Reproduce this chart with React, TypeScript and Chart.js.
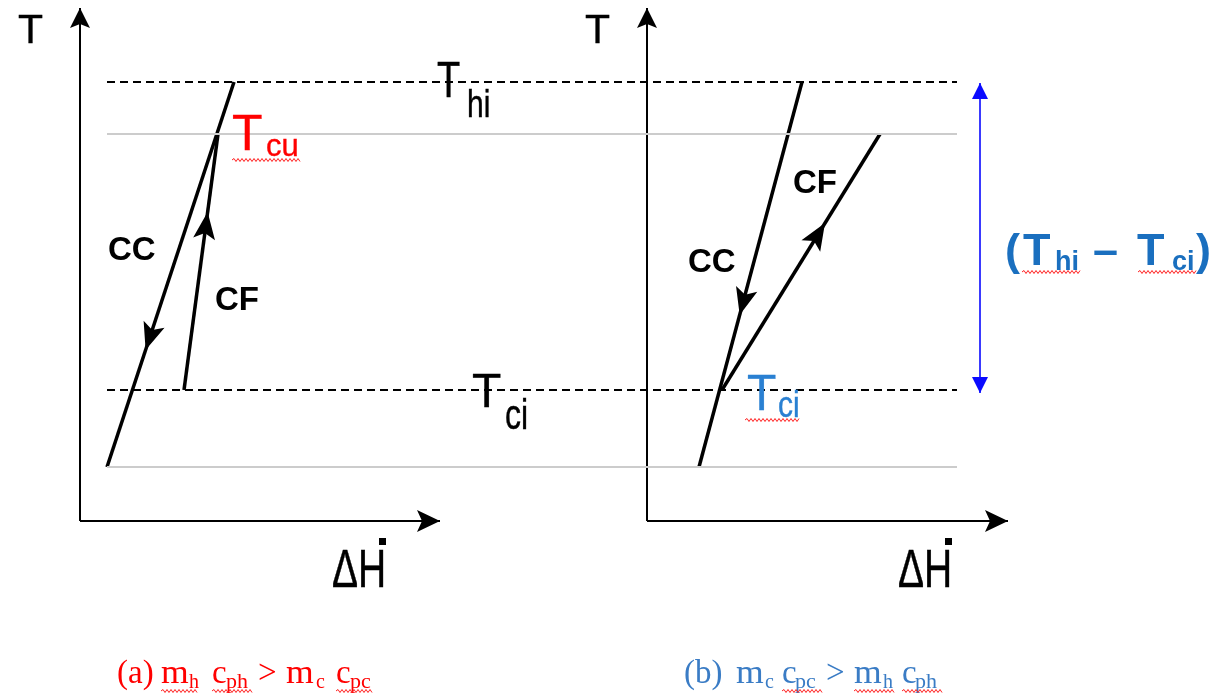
import React, { useEffect, useRef } from 'react';
import { Chart, registerables } from 'chart.js';

Chart.register(...registerables);

// Drawing frame: x grows right, y grows downward (page-like units)
const WIDTH = 1213;
const HEIGHT = 693;

// Temperature levels shared by both panels
const levelNames = ['T_hi', 'T_cu', 'T_ci', 'T_low'];
const levelY = [82, 134, 390, 467];
const levelDashed = [true, false, true, false];
const levelSpanX = [107, 957];

// Axes (origin and arrow tips) for panels (a) and (b)
const axisOriginX = [80, 647];
const axisOriginY = 521;
const axisTipY = 8;
const axisTipX = [440, 1008];

// Stream profiles, listed in flow direction [start, end]
const ccLeftX = [234, 107];
const ccLeftY = [82, 467];
const cfLeftX = [184, 218];
const cfLeftY = [390, 134];
const ccRightX = [802, 699];
const ccRightY = [82, 467];
const cfRightX = [722, 880];
const cfRightY = [390, 134];
// where the flow arrow sits along each profile (0 = start, 1 = end)
const streamArrowAt = [0.696, 0.695, 0.605, 0.652];

// Span marker for the maximum temperature difference
const spanX = [980, 980];
const spanY = [83, 393];

const SANS = '"Liberation Sans", Arial, sans-serif';
const SERIF = '"Liberation Serif", "Times New Roman", serif';
const RED = '#ff0000';
const BLUE_T = '#2a80d2';
const BLUE_BOLD = '#1a6fbf';
const BLUE_CAP = '#3a7cc5';

type Run = {
  text: string; x: number; y: number; size: number; color: string;
  bold?: boolean; family?: string; sx?: number; sy?: number; heavy?: boolean;
};

const textRuns: Run[] = [
  // axis titles
  { text: 'T', x: 18, y: 43, size: 41, color: '#000', heavy: true },
  { text: 'T', x: 585, y: 43, size: 41, color: '#000', heavy: true },
  // stream names
  { text: 'CC', x: 108, y: 260, size: 33, color: '#000', bold: true },
  { text: 'CF', x: 215, y: 310, size: 33, color: '#000', bold: true },
  { text: 'CF', x: 793, y: 193, size: 33, color: '#000', bold: true },
  { text: 'CC', x: 688, y: 272, size: 33, color: '#000', bold: true },
  // level names
  { text: 'T', x: 437, y: 97, size: 38, color: '#000', sy: 1.3, heavy: true },
  { text: 'hi', x: 467, y: 117, size: 30, color: '#000', sy: 1.3, heavy: true },
  { text: 'T', x: 472, y: 407, size: 48, color: '#000', heavy: true },
  { text: 'ci', x: 505, y: 429, size: 32, color: '#000', sy: 1.3, heavy: true },
  { text: 'T', x: 232, y: 150, size: 50, color: RED, heavy: true },
  { text: 'cu', x: 266, y: 156, size: 31, color: RED, heavy: true },
  { text: 'T', x: 747, y: 410, size: 48, color: BLUE_T, sy: 1.05, heavy: true },
  { text: 'ci', x: 778, y: 417, size: 30, color: BLUE_T, sy: 1.2, heavy: true },
  // (Thi – Tci)
  { text: '(', x: 1005, y: 265, size: 45, color: BLUE_BOLD, bold: true },
  { text: 'T', x: 1023, y: 265, size: 45, color: BLUE_BOLD, bold: true },
  { text: 'hi', x: 1055, y: 270, size: 27, color: BLUE_BOLD, bold: true },
  { text: '\u2013', x: 1093, y: 265, size: 45, color: BLUE_BOLD, bold: true },
  { text: 'T', x: 1137, y: 265, size: 45, color: BLUE_BOLD, bold: true },
  { text: 'ci', x: 1172, y: 270, size: 27, color: BLUE_BOLD, bold: true },
  { text: ')', x: 1196, y: 265, size: 45, color: BLUE_BOLD, bold: true },
  // x-axis titles
  { text: '\u0394H', x: 332, y: 587, size: 39, color: '#000', sy: 1.38, heavy: true },
  { text: '\u0394H', x: 898, y: 587, size: 39, color: '#000', sy: 1.38, heavy: true },
  // caption (a)
  { text: '(a)', x: 117, y: 683, size: 33, color: RED, family: SERIF },
  { text: 'm', x: 161, y: 683, size: 33, color: RED, family: SERIF, sx: 1.08 },
  { text: 'h', x: 189, y: 688, size: 20, color: RED, family: SERIF },
  { text: 'c', x: 212, y: 683, size: 33, color: RED, family: SERIF },
  { text: 'ph', x: 226, y: 688, size: 20, color: RED, family: SERIF, sx: 1.1 },
  { text: '>', x: 258, y: 683, size: 33, color: RED, family: SERIF },
  { text: 'm', x: 286, y: 683, size: 33, color: RED, family: SERIF, sx: 1.08 },
  { text: 'c', x: 316, y: 688, size: 20, color: RED, family: SERIF },
  { text: 'c', x: 336, y: 683, size: 33, color: RED, family: SERIF },
  { text: 'pc', x: 350, y: 688, size: 20, color: RED, family: SERIF, sx: 1.1 },
  // caption (b)
  { text: '(b)', x: 684, y: 683, size: 33, color: BLUE_CAP, family: SERIF },
  { text: 'm', x: 736, y: 683, size: 33, color: BLUE_CAP, family: SERIF, sx: 1.08 },
  { text: 'c', x: 765, y: 688, size: 20, color: BLUE_CAP, family: SERIF },
  { text: 'c', x: 782, y: 683, size: 33, color: BLUE_CAP, family: SERIF },
  { text: 'pc', x: 795, y: 688, size: 20, color: BLUE_CAP, family: SERIF, sx: 1.1 },
  { text: '>', x: 826, y: 683, size: 33, color: BLUE_CAP, family: SERIF },
  { text: 'm', x: 854, y: 683, size: 33, color: BLUE_CAP, family: SERIF, sx: 1.08 },
  { text: 'h', x: 883, y: 688, size: 20, color: BLUE_CAP, family: SERIF },
  { text: 'c', x: 902, y: 683, size: 33, color: BLUE_CAP, family: SERIF },
  { text: 'ph', x: 915, y: 688, size: 20, color: BLUE_CAP, family: SERIF, sx: 1.1 },
];

// dots of the H-dot symbol: [x, y, w, h]
const hDots = [
  [379, 538, 7, 7],
  [945, 538, 7, 7],
];

// spell-check squiggles: [x0, x1, y]
const squiggles = [
  [232, 300, 160],
  [745, 800, 420],
  [1022, 1080, 272],
  [1138, 1197, 272],
  [161, 197, 691],
  [212, 252, 691],
  [336, 373, 691],
  [782, 822, 691],
  [854, 895, 691],
  [902, 943, 691],
];

type ArrowSpec = { at: number; dir: number; len: number; half: number; notch: number; color: string };

function seg(xs: number[], ys: number[], color: string, width: number, extra: any = {}) {
  return {
    data: xs.map((x, i) => ({ x, y: ys[i] })),
    showLine: true,
    pointRadius: 0,
    pointHoverRadius: 0,
    borderColor: color,
    backgroundColor: color,
    borderWidth: width,
    fill: false,
    tension: 0,
    ...extra,
  };
}

function buildDatasets() {
  const ds: any[] = [];
  // horizontal level lines
  levelY.forEach((y, i) => {
    ds.push(
      seg(levelSpanX, [y, y], levelDashed[i] ? '#000000' : '#cccccc', 2, {
        label: levelNames[i],
        borderDash: levelDashed[i] ? [8, 5] : [],
      })
    );
  });
  // axes
  const axisArrowV: ArrowSpec = { at: 1, dir: 1, len: 20, half: 10, notch: 4, color: '#000' };
  const axisArrowH: ArrowSpec = { at: 1, dir: 1, len: 23, half: 11, notch: 5, color: '#000' };
  axisOriginX.forEach((x0, i) => {
    ds.push(seg([x0, x0], [axisOriginY, axisTipY], '#000', 2, { label: 'T axis', arrows: [axisArrowV] }));
    ds.push(seg([x0, axisTipX[i]], [axisOriginY, axisOriginY], '#000', 2, { label: 'H axis', arrows: [axisArrowH] }));
  });
  // stream profiles
  const streams = [
    ['CC (a)', ccLeftX, ccLeftY],
    ['CF (a)', cfLeftX, cfLeftY],
    ['CC (b)', ccRightX, ccRightY],
    ['CF (b)', cfRightX, cfRightY],
  ] as const;
  streams.forEach(([name, xs, ys], i) => {
    ds.push(
      seg(xs as any, ys as any, '#000', 3.5, {
        label: name,
        arrows: [{ at: streamArrowAt[i], dir: 1, len: 27, half: 11, notch: 6, color: '#000' }],
      })
    );
  });
  // temperature-difference span
  ds.push(
    seg(spanX, spanY, '#3a3aff', 2, {
      label: 'span',
      arrows: [
        { at: 0, dir: -1, len: 16, half: 8, notch: 0, color: '#0a0aff' },
        { at: 1, dir: 1, len: 16, half: 8, notch: 0, color: '#0a0aff' },
      ],
    })
  );
  return ds;
}

const arrowPlugin = {
  id: 'arrowHeads',
  afterDatasetsDraw(chart: any) {
    const ctx = chart.ctx as CanvasRenderingContext2D;
    chart.data.datasets.forEach((d: any, i: number) => {
      if (!d.arrows) return;
      const meta = chart.getDatasetMeta(i);
      const p0 = meta.data[0];
      const p1 = meta.data[1];
      const dx = p1.x - p0.x;
      const dy = p1.y - p0.y;
      const L = Math.hypot(dx, dy);
      d.arrows.forEach((a: ArrowSpec) => {
        const ux = (dx / L) * a.dir;
        const uy = (dy / L) * a.dir;
        const nx = -uy;
        const ny = ux;
        const tx = p0.x + dx * a.at;
        const ty = p0.y + dy * a.at;
        const bx = tx - ux * a.len;
        const by = ty - uy * a.len;
        const mx = tx - ux * (a.len - a.notch);
        const my = ty - uy * (a.len - a.notch);
        ctx.save();
        ctx.fillStyle = a.color;
        ctx.beginPath();
        ctx.moveTo(tx, ty);
        ctx.lineTo(bx + nx * a.half, by + ny * a.half);
        ctx.lineTo(mx, my);
        ctx.lineTo(bx - nx * a.half, by - ny * a.half);
        ctx.closePath();
        ctx.fill();
        ctx.restore();
      });
    });
  },
};

const labelPlugin = {
  id: 'diagramLabels',
  afterDraw(chart: any) {
    const ctx = chart.ctx as CanvasRenderingContext2D;
    const xs = chart.scales.x;
    const ys = chart.scales.y;
    const px = (v: number) => xs.getPixelForValue(v);
    const py = (v: number) => ys.getPixelForValue(v);

    textRuns.forEach((r) => {
      ctx.save();
      ctx.font = `${r.bold ? 'bold ' : ''}${r.size}px ${r.family ?? SANS}`;
      ctx.fillStyle = r.color;
      ctx.strokeStyle = r.color;
      ctx.textAlign = 'left';
      ctx.textBaseline = 'alphabetic';
      ctx.translate(px(r.x), py(r.y));
      ctx.scale(r.sx ?? 1, r.sy ?? 1);
      ctx.fillText(r.text, 0, 0);
      if (r.heavy) {
        // slight extra weight for the regular-face symbols
        ctx.lineWidth = 0.35;
        ctx.strokeText(r.text, 0, 0);
      }
      ctx.restore();
    });

    ctx.save();
    ctx.fillStyle = '#000';
    hDots.forEach(([x, y, w, h]) => {
      ctx.fillRect(px(x), py(y), w, h);
    });
    ctx.restore();

    ctx.save();
    ctx.strokeStyle = '#ff2020';
    ctx.lineWidth = 1;
    squiggles.forEach(([x0, x1, y]) => {
      const a = px(x0);
      const b = px(x1);
      const yy = py(y);
      ctx.beginPath();
      ctx.moveTo(a, yy);
      let up = true;
      for (let x = a + 2; x <= b; x += 2) {
        ctx.lineTo(x, yy + (up ? -1.5 : 1.5));
        up = !up;
      }
      ctx.stroke();
    });
    ctx.restore();
  },
};

export default function App() {
  const canvasRef = useRef<HTMLCanvasElement | null>(null);

  useEffect(() => {
    if (!canvasRef.current) return;
    const chart = new Chart(canvasRef.current, {
      type: 'scatter',
      data: { datasets: buildDatasets() },
      options: {
        animation: false,
        responsive: false,
        maintainAspectRatio: false,
        devicePixelRatio: 1,
        events: [],
        layout: { padding: 0 },
        plugins: {
          legend: { display: false },
          tooltip: { enabled: false },
        },
        scales: {
          x: { type: 'linear', min: 0, max: WIDTH, display: false },
          y: { type: 'linear', min: 0, max: HEIGHT, reverse: true, display: false },
        },
      },
      plugins: [arrowPlugin, labelPlugin],
    } as any);
    return () => chart.destroy();
  }, []);

  return (
    <div style={{ position: 'absolute', left: 0, top: 0, width: WIDTH, height: HEIGHT, background: '#fff' }}>
      <canvas ref={canvasRef} width={WIDTH} height={HEIGHT} style={{ display: 'block' }} />
    </div>
  );
}
